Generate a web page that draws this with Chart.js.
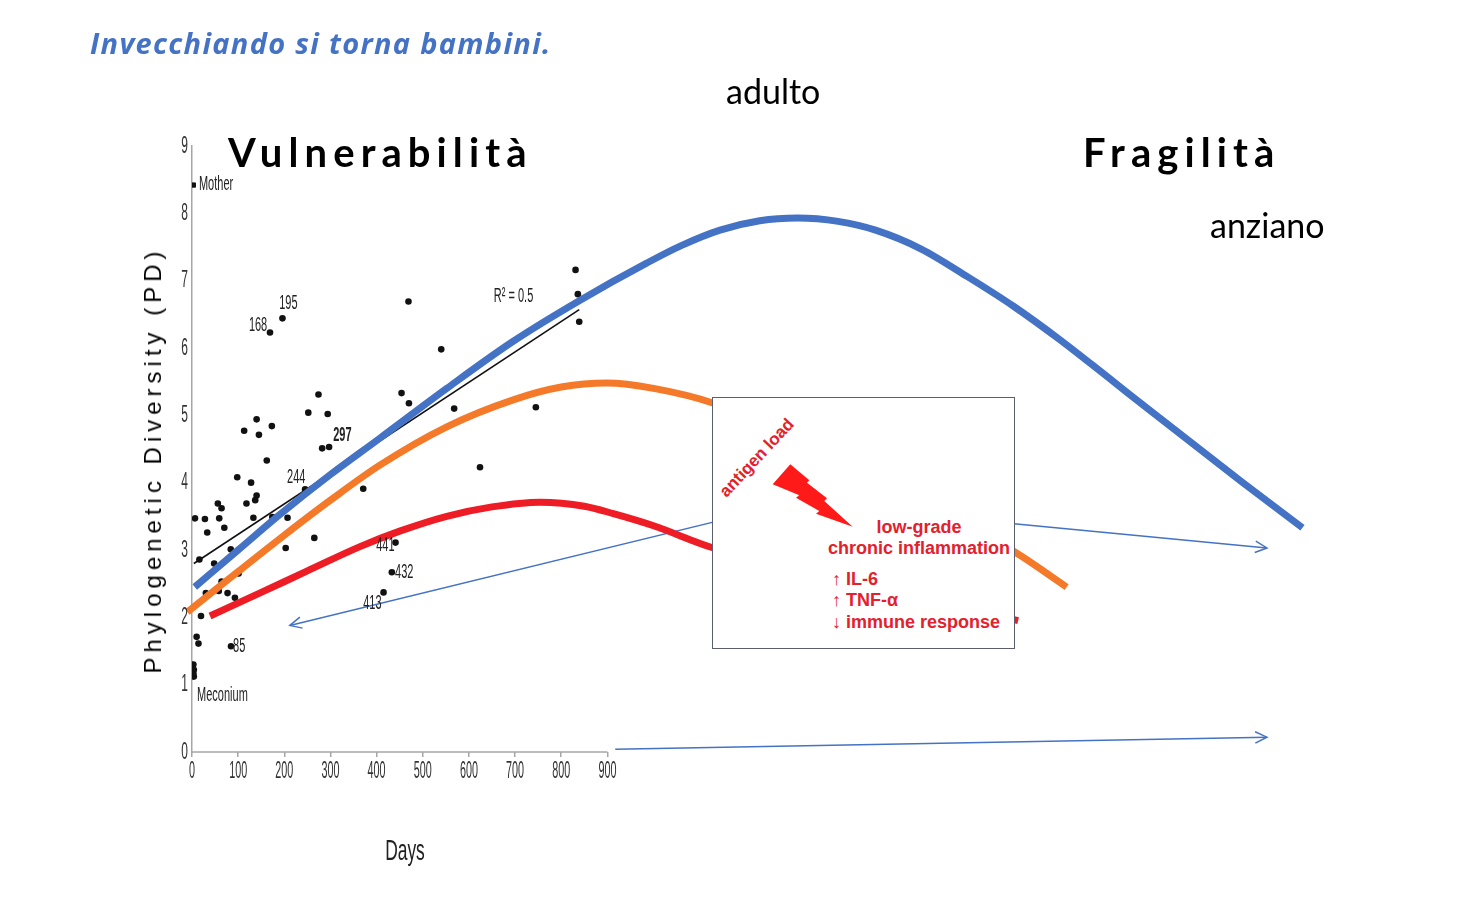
<!DOCTYPE html>
<html lang="it">
<head>
<meta charset="utf-8">
<title>Invecchiando si torna bambini</title>
<script src="https://cdn.jsdelivr.net/npm/chart.js@4.4.1/dist/chart.umd.min.js"></script>
<style>
  html, body { margin: 0; padding: 0; background: #fff; width: 1482px; height: 916px; overflow: hidden; }
  #wrap { position: relative; width: 1482px; height: 916px; }
  canvas { position: absolute; left: 0; top: 0; }
  .t { position: absolute; white-space: nowrap; line-height: 1; transform: translateY(-50%); color: #000; }
  #title { left: 90px; top: 42px; font: italic 700 29px "Open Sans", sans-serif; letter-spacing: 1.3px; color: #4472c4; }
  #adulto { left: 726px; top: 90px; font: 400 34px Lato, sans-serif; }
  #anziano { left: 1210px; top: 224px; font: 400 34px Lato, sans-serif; }
  #vuln { left: 228px; top: 152px; font: 700 40px Lato, sans-serif; letter-spacing: 6.1px; }
  #frag { left: 1083px; top: 152px; font: 700 40px Lato, sans-serif; letter-spacing: 6.1px; }
  #ytitle { left: 153px; top: 460px; font: 400 24px "Liberation Sans", Arial, sans-serif; letter-spacing: 5px;
            transform: translate(-50%, -50%) rotate(-90deg); }
  #days { left: 405px; top: 850px; font: 400 30px "Liberation Sans", sans-serif;
          transform: translate(-50%, -50%) scaleX(0.58); color: #222; }
  #box { position: absolute; left: 712px; top: 397px; width: 301px; height: 250px; background: #fff;
         border: 1px solid #5a5e6e; }
  #box .r { position: absolute; white-space: nowrap; line-height: 1; color: #e4202c;
            font: 700 18px "Liberation Sans", Arial, sans-serif; }
  #antigen { left: 44px; top: 60px; font-size: 17px !important; transform: translate(-50%, -50%) rotate(-47deg); }
  .c { transform: translate(-50%, -50%); }
  .l { transform: translateY(-50%); }
  .ar { font-weight: 400; }
  #bolt { position: absolute; left: 0; top: 0; }
</style>
</head>
<body>
<div id="wrap">
  <canvas id="chart" width="1482" height="916"></canvas>

  <div class="t" id="title">Invecchiando si torna bambini.</div>
  <div class="t" id="adulto">adulto</div>
  <div class="t" id="vuln">Vulnerabilità</div>
  <div class="t" id="frag">Fragilità</div>
  <div class="t" id="anziano">anziano</div>
  <div class="t" id="ytitle">Phylogenetic Diversity (PD)</div>
  <div class="t" id="days">Days</div>

  <div id="box">
    <svg id="bolt" width="301" height="250">
      <polygon fill="#ff1a1a" points="59.7,86.3 77.3,66.3 96.3,82.3 94,84.7 114,100.3 111.3,103 139.7,128.7 103,115.7 106.3,113 83,99.7 86.3,97.3"/>
    </svg>
    <div class="r" id="antigen">antigen load</div>
    <div class="r c" style="left:206px;top:129px;">low-grade</div>
    <div class="r c" style="left:206px;top:150px;">chronic inflammation</div>
    <div class="r l" style="left:119px;top:181px;"><span class="ar">↑</span> IL-6</div>
    <div class="r l" style="left:119px;top:202px;"><span class="ar">↑</span> TNF-α</div>
    <div class="r l" style="left:119px;top:224px;"><span class="ar">↓</span> immune response</div>
  </div>
</div>

<script>
// ---- dati (giorni, PD) ----
const xTicks = [0, 100, 200, 300, 400, 500, 600, 700, 800, 900];
const yTicks = [0, 1, 2, 3, 4, 5, 6, 7, 8, 9];

// campioni (punti neri)
const sampleDays = [3, 4, 4, 3, 10, 14, 19.5, 6.5, 16, 28, 30, 33, 48, 56, 58, 59, 64, 64, 70, 77, 84, 84.5, 93,
  98, 101, 113, 118, 128, 133, 137, 140, 140, 145, 162, 169, 173, 174, 196, 203, 207, 245, 252, 265, 274, 282,
  294, 297, 371, 415, 433, 441, 454, 469, 470, 540, 568, 624, 745, 831, 836, 839];
const samplePD = [1.30, 1.22, 1.12, 1.17, 1.71, 1.61, 2.02, 3.47, 2.86, 3.46, 2.36, 3.26, 2.80, 3.69, 2.39, 3.47,
  3.62, 2.53, 3.33, 2.36, 3.01, 1.57, 2.29, 4.08, 2.65, 4.77, 3.69, 4.00, 3.48, 3.74, 3.81, 4.94, 4.71, 4.33, 6.23,
  4.84, 3.49, 6.44, 3.03, 3.48, 3.90, 5.04, 3.18, 5.31, 4.51, 5.02, 4.53, 3.91, 2.37, 2.67, 3.11, 5.33, 6.69, 5.18,
  5.98, 5.10, 4.23, 5.12, 7.16, 6.80, 6.39];

const motherDay = [3];
const motherPD = [8.42];

// retta di regressione (R² = 0.5)
const trendDays = [4, 839];
const trendPD = [2.80, 6.57];

// curve disegnate sopra (blu, arancio, rosso)
const blueDays = [6, 100, 191, 300, 407, 552, 696, 841, 985, 1060, 1144, 1230, 1312, 1400, 1481, 1580, 1680, 1780, 1879, 1980, 2078, 2277, 2406];
const bluePD = [2.45, 3.00, 3.53, 4.12, 4.66, 5.40, 6.10, 6.71, 7.26, 7.52, 7.75, 7.89, 7.93, 7.88, 7.75, 7.47, 7.06, 6.62, 6.13, 5.59, 5.06, 4.00, 3.33];

const orangeDays = [-10, 100, 200, 300, 407, 552, 696, 800, 899, 1000, 1130, 1450, 1783, 1895];
const orangePD = [2.08, 2.68, 3.22, 3.74, 4.26, 4.83, 5.23, 5.42, 5.48, 5.40, 5.18, 4.25, 2.97, 2.45];

const redDays = [39, 150, 250, 364, 450, 552, 650, 754, 850, 913, 1000, 1130, 1450, 1790];
const redPD = [2.02, 2.37, 2.69, 3.05, 3.28, 3.50, 3.64, 3.71, 3.65, 3.54, 3.36, 3.03, 2.50, 1.95];

// etichette dei punti
const labelText = ['Mother', 'Meconium', '168', '195', '244', '297', '441', '432', '413', '85', 'R² = 0.5'];
const labelDay = [15, 11, 163, 189, 206, 306, 399, 440, 371, 89, 654];
const labelPD = [8.43, 0.84, 6.33, 6.66, 4.08, 4.70, 3.07, 2.66, 2.21, 1.57, 6.76];
const labelAlign = ['left', 'left', 'right', 'left', 'left', 'left', 'left', 'left', 'left', 'left', 'left'];

// frecce blu [giorno inizio, PD inizio, giorno punta, PD punta]
const arrows = [
  [1300, 3.70, 212, 1.88],
  [1600, 3.51, 2329, 3.03],
  [917, 0.04, 2329, 0.22]
];

const pts = (xs, ys) => xs.map((d, i) => ({ x: d, y: ys[i] }));

const FONT = '"Liberation Sans", Arial, sans-serif';

// testo compresso in orizzontale, come nella figura originale
function squeezed(ctx, txt, x, y, sx, align) {
  ctx.save();
  ctx.translate(x, y);
  ctx.scale(sx, 1);
  ctx.textAlign = align;
  ctx.fillText(txt, 0, 0);
  ctx.restore();
}

// asse x disegnato solo fino a 900 giorni + frecce blu
const axisLine = {
  id: 'axisLine',
  beforeDatasetsDraw(chart) {
    const { ctx, scales: { x, y } } = chart;
    ctx.save();
    ctx.strokeStyle = '#a6a6a6';
    ctx.lineWidth = 1.5;
    ctx.beginPath();
    ctx.moveTo(x.getPixelForValue(0), y.getPixelForValue(0));
    ctx.lineTo(x.getPixelForValue(900), y.getPixelForValue(0));
    ctx.stroke();

    ctx.strokeStyle = '#4472c4';
    ctx.lineWidth = 1.5;
    arrows.forEach(a => {
      const x0 = x.getPixelForValue(a[0]), y0 = y.getPixelForValue(a[1]);
      const x1 = x.getPixelForValue(a[2]), y1 = y.getPixelForValue(a[3]);
      const ang = Math.atan2(y1 - y0, x1 - x0);
      ctx.beginPath();
      ctx.moveTo(x0, y0);
      ctx.lineTo(x1, y1);
      ctx.stroke();
      ctx.beginPath();
      ctx.moveTo(x1 - 13 * Math.cos(ang - 0.45), y1 - 13 * Math.sin(ang - 0.45));
      ctx.lineTo(x1, y1);
      ctx.lineTo(x1 - 13 * Math.cos(ang + 0.45), y1 - 13 * Math.sin(ang + 0.45));
      ctx.stroke();
    });
    ctx.restore();
  }
};

// etichette dei tick e dei campioni
const labels = {
  id: 'labels',
  afterDatasetsDraw(chart) {
    const { ctx, scales: { x, y } } = chart;
    ctx.save();
    ctx.fillStyle = '#333';
    ctx.textBaseline = 'middle';
    ctx.font = '400 24px ' + FONT;
    x.ticks.forEach(t => squeezed(ctx, String(t.value), x.getPixelForValue(t.value), y.bottom + 19, 0.45, 'center'));
    y.ticks.forEach(t => squeezed(ctx, String(t.value), x.left - 4, y.getPixelForValue(t.value), 0.5, 'right'));

    ctx.fillStyle = '#222';
    labelText.forEach((txt, i) => {
      ctx.font = (txt === '297' ? '700 ' : '400 ') + '20px ' + FONT;
      squeezed(ctx, txt, x.getPixelForValue(labelDay[i]), y.getPixelForValue(labelPD[i]), 0.55, labelAlign[i]);
    });
    ctx.restore();
  }
};

const curve = (label, xs, ys, color) => ({
  label,
  data: pts(xs, ys),
  showLine: true,
  borderColor: color,
  borderWidth: 7,
  pointRadius: 0,
  cubicInterpolationMode: 'monotone',
  clip: false
});

new Chart(document.getElementById('chart'), {
  type: 'scatter',
  data: {
    datasets: [
      curve('blu', blueDays, bluePD, '#4472c4'),
      curve('arancio', orangeDays, orangePD, '#f47a2a'),
      curve('rosso', redDays, redPD, '#ee1c25'),
      {
        label: 'trend',
        data: pts(trendDays, trendPD),
        showLine: true,
        borderColor: '#111',
        borderWidth: 1.6,
        pointRadius: 0
      },
      {
        label: 'Mother',
        data: pts(motherDay, motherPD),
        pointStyle: 'rect',
        pointRadius: 3,
        backgroundColor: '#111',
        borderColor: '#111'
      },
      {
        label: 'campioni',
        data: pts(sampleDays, samplePD),
        pointRadius: 3.3,
        backgroundColor: '#111',
        borderColor: '#111',
        borderWidth: 0
      }
    ]
  },
  options: {
    responsive: false,
    animation: false,
    devicePixelRatio: 1,
    layout: { padding: { left: 152, right: 90, top: 146, bottom: 124 } },
    plugins: { legend: { display: false }, tooltip: { enabled: false } },
    scales: {
      x: {
        type: 'linear',
        min: 0,
        max: 2600,
        afterBuildTicks: s => { s.ticks = xTicks.map(v => ({ value: v })); },
        afterFit: s => { s.height = 40; },
        border: { display: false },
        grid: { drawOnChartArea: false, drawTicks: true, tickLength: 5, color: '#a6a6a6', lineWidth: 1.5 },
        ticks: { display: false }
      },
      y: {
        min: 0,
        max: 9,
        afterBuildTicks: s => { s.ticks = yTicks.map(v => ({ value: v })); },
        afterFit: s => { s.width = 40; },
        border: { display: true, color: '#a6a6a6', width: 1.5 },
        grid: { drawOnChartArea: false, drawTicks: false },
        ticks: { display: false }
      }
    }
  },
  plugins: [axisLine, labels]
});
</script>
</body>
</html>
